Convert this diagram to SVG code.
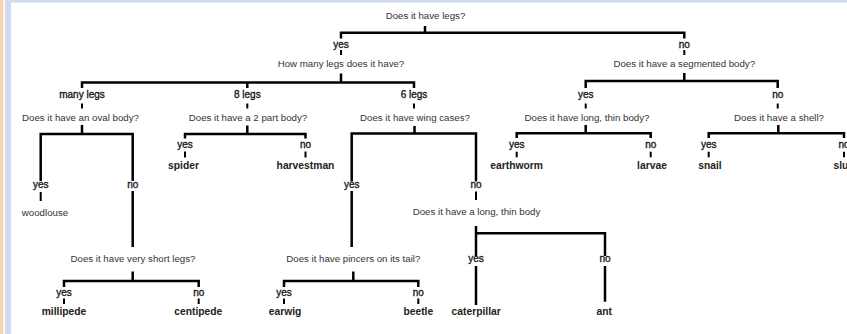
<svg xmlns="http://www.w3.org/2000/svg" width="847" height="334" viewBox="0 0 847 334">
<style>
text{font-family:"Liberation Sans",Arial,sans-serif;text-anchor:middle}
.q{font-size:9.7px;fill:#333}
.b{font-size:10px;fill:#1a1a1a;stroke:#1a1a1a;stroke-width:0.35}
.leaf{font-size:10.3px;font-weight:bold;fill:#222}
.w{font-size:9.7px;fill:#333}
.ln{fill:none;stroke:#000;stroke-width:2.5;stroke-linejoin:miter}
.tk{stroke:#000;stroke-width:2}
</style>
<rect width="847" height="334" fill="#fff"/>
<rect x="0" y="0" width="3.4" height="334" fill="#f9d4b6"/>
<rect x="5" y="0" width="6" height="334" fill="#d1ddef"/>
<rect x="5" y="0" width="842" height="2.7" fill="#d1ddef"/>
<g id="connectors">
<line class="ln" x1="425" y1="26" x2="425" y2="33"/>
<polyline class="ln" points="341,38.5 341,32.7 684.3,32.7 684.3,38.5"/>
<line class="tk" x1="341" y1="50" x2="341" y2="55"/>
<line class="tk" x1="684.3" y1="50" x2="684.3" y2="55"/>
<line class="ln" x1="341" y1="73.5" x2="341" y2="82.5"/>
<polyline class="ln" points="82,88 82,82.5 414,82.5 414,88"/>
<line class="ln" x1="247.3" y1="82.5" x2="247.3" y2="88"/>
<line class="tk" x1="82" y1="103.5" x2="82" y2="108.5"/>
<line class="tk" x1="247.3" y1="103.5" x2="247.3" y2="108.5"/>
<line class="tk" x1="414" y1="103.5" x2="414" y2="108.5"/>
<line class="ln" x1="684.3" y1="73" x2="684.3" y2="81"/>
<polyline class="ln" points="585.7,88 585.7,81 777.7,81 777.7,88"/>
<line class="tk" x1="585.7" y1="103.5" x2="585.7" y2="108.5"/>
<line class="tk" x1="777.7" y1="103.5" x2="777.7" y2="108.5"/>
<line class="ln" x1="82" y1="125" x2="82" y2="134"/>
<polyline class="ln" points="40.7,181 40.7,134 132.7,134 132.7,181"/>
<line class="tk" x1="40.7" y1="192" x2="40.7" y2="201"/>
<line class="ln" x1="132.7" y1="191" x2="132.7" y2="247"/>
<line class="ln" x1="132.7" y1="271.5" x2="132.7" y2="281"/>
<polyline class="ln" points="64,287 64,281 198.7,281 198.7,287"/>
<line class="tk" x1="64" y1="298.5" x2="64" y2="304"/>
<line class="tk" x1="198.7" y1="298.5" x2="198.7" y2="304"/>
<line class="ln" x1="247.3" y1="125.5" x2="247.3" y2="134"/>
<polyline class="ln" points="185,138.5 185,134 305.5,134 305.5,138.5"/>
<line class="tk" x1="185" y1="151.5" x2="185" y2="157.5"/>
<line class="tk" x1="305.5" y1="151.5" x2="305.5" y2="157.5"/>
<line class="ln" x1="414.5" y1="126" x2="414.5" y2="133.5"/>
<polyline class="ln" points="351.7,181.5 351.7,133.5 476,133.5 476,181.5"/>
<line class="ln" x1="351.7" y1="191" x2="351.7" y2="247"/>
<line class="tk" x1="476" y1="191.5" x2="476" y2="200"/>
<line class="ln" x1="353.3" y1="271.5" x2="353.3" y2="281"/>
<polyline class="ln" points="284,287 284,281 418.3,281 418.3,287"/>
<line class="tk" x1="284" y1="298.5" x2="284" y2="304"/>
<line class="tk" x1="418.3" y1="298.5" x2="418.3" y2="304"/>
<line class="ln" x1="476" y1="226" x2="476" y2="256"/>
<polyline class="ln" points="476,233.3 605,233.3 605,256"/>
<line class="ln" x1="476" y1="266" x2="476" y2="305"/>
<line class="ln" x1="605" y1="266" x2="605" y2="301.7"/>
<line class="ln" x1="585.7" y1="125" x2="585.7" y2="133.3"/>
<polyline class="ln" points="516.7,138 516.7,133.3 650.7,133.3 650.7,138"/>
<line class="tk" x1="516.7" y1="151.7" x2="516.7" y2="157.3"/>
<line class="tk" x1="650.7" y1="151.7" x2="650.7" y2="157.3"/>
<line class="ln" x1="778.3" y1="125" x2="778.3" y2="133.3"/>
<polyline class="ln" points="708.7,138 708.7,133.3 844,133.3 844,138"/>
<line class="tk" x1="708.7" y1="151.7" x2="708.7" y2="157.3"/>
<line class="tk" x1="844" y1="151.7" x2="844" y2="157.3"/>
</g>
<g id="n-legs"><text class="q" x="425.5" y="19">Does it have legs?</text></g>
<g id="n-yes1"><text class="b" x="341" y="47.5">yes</text></g>
<g id="n-no1"><text class="b" x="684.3" y="47.5">no</text></g>
<g id="n-howmany"><text class="q" x="341" y="67">How many legs does it have?</text></g>
<g id="n-segmented"><text class="q" x="684.3" y="67">Does it have a segmented body?</text></g>
<g id="n-manylegs"><text class="b" x="82" y="97.5">many legs</text></g>
<g id="n-8legs"><text class="b" x="247.3" y="97.5">8 legs</text></g>
<g id="n-6legs"><text class="b" x="414" y="97.5">6 legs</text></g>
<g id="n-segyes"><text class="b" x="585.7" y="97.5">yes</text></g>
<g id="n-segno"><text class="b" x="777.7" y="97.5">no</text></g>
<g id="n-oval"><text class="q" x="80.5" y="120.5">Does it have an oval body?</text></g>
<g id="n-2part"><text class="q" x="248" y="120.5">Does it have a 2 part body?</text></g>
<g id="n-wing"><text class="q" x="415" y="120.5">Does it have wing cases?</text></g>
<g id="n-longthin1"><text class="q" x="587" y="120.5">Does it have long, thin body?</text></g>
<g id="n-shell"><text class="q" x="779" y="120.5">Does it have a shell?</text></g>
<g id="n-2yes"><text class="b" x="185" y="148.3">yes</text></g>
<g id="n-2no"><text class="b" x="305.5" y="148.3">no</text></g>
<g id="n-ltyes"><text class="b" x="516.7" y="148.3">yes</text></g>
<g id="n-ltno"><text class="b" x="650.7" y="148.3">no</text></g>
<g id="n-shyes"><text class="b" x="708.7" y="148.3">yes</text></g>
<g id="n-shno"><text class="b" x="844" y="148.3">no</text></g>
<g id="n-spider"><text class="leaf" x="183.5" y="169">spider</text></g>
<g id="n-harvestman"><text class="leaf" x="305.5" y="169">harvestman</text></g>
<g id="n-earthworm"><text class="leaf" x="516.7" y="169">earthworm</text></g>
<g id="n-larvae"><text class="leaf" x="652" y="169">larvae</text></g>
<g id="n-snail"><text class="leaf" x="710" y="169">snail</text></g>
<g id="n-slug"><text class="leaf" x="844" y="169">slug</text></g>
<g id="n-ovyes"><text class="b" x="40.7" y="188.3">yes</text></g>
<g id="n-ovno"><text class="b" x="132.7" y="188.3">no</text></g>
<g id="n-wyes"><text class="b" x="351.7" y="188.3">yes</text></g>
<g id="n-wno"><text class="b" x="476" y="188.3">no</text></g>
<g id="n-woodlouse"><text class="w" x="45" y="215.7">woodlouse</text></g>
<g id="n-longthin2"><text class="q" x="476.5" y="215">Does it have a long, thin body</text></g>
<g id="n-short"><text class="q" x="133" y="261.7">Does it have very short legs?</text></g>
<g id="n-pincers"><text class="q" x="353.3" y="261.7">Does it have pincers on its tail?</text></g>
<g id="n-l2yes"><text class="b" x="476" y="262.3">yes</text></g>
<g id="n-l2no"><text class="b" x="605" y="262.3">no</text></g>
<g id="n-shyes2"><text class="b" x="64" y="296">yes</text></g>
<g id="n-shno2"><text class="b" x="198.7" y="296">no</text></g>
<g id="n-pyes"><text class="b" x="284" y="296">yes</text></g>
<g id="n-pno"><text class="b" x="418.3" y="296">no</text></g>
<g id="n-millipede"><text class="leaf" x="64" y="315">millipede</text></g>
<g id="n-centipede"><text class="leaf" x="198.3" y="315">centipede</text></g>
<g id="n-earwig"><text class="leaf" x="285" y="315">earwig</text></g>
<g id="n-beetle"><text class="leaf" x="418.3" y="315">beetle</text></g>
<g id="n-caterpillar"><text class="leaf" x="476.2" y="315">caterpillar</text></g>
<g id="n-ant"><text class="leaf" x="604.3" y="315">ant</text></g>
</svg>
